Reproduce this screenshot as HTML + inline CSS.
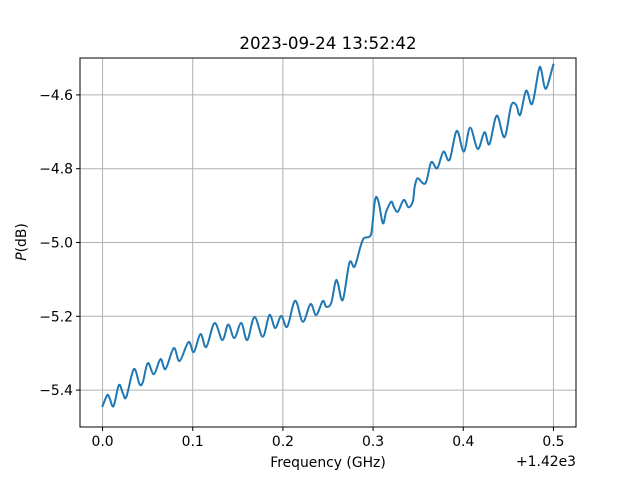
<!DOCTYPE html>
<html><head><meta charset="utf-8"><style>
body{margin:0;background:#fff}
svg text{font-family:"DejaVu Sans","Liberation Sans",sans-serif;fill:#000}
</style></head><body>
<svg id="chart" width="640" height="480" xmlns="http://www.w3.org/2000/svg">
<rect width="640" height="480" fill="#fff"/>
<g id="grid"></g><g id="ticks"></g>
<path id="line" fill="none" stroke="#1f77b4" stroke-width="2" stroke-linejoin="round" stroke-linecap="square"/>
<rect x="80" y="58" width="496" height="369" fill="none" stroke="#000" stroke-width="1"/>
<text x="328" y="49" font-size="16.7" text-anchor="middle">2023-09-24 13:52:42</text>
<text x="328" y="467" font-size="13.9" text-anchor="middle">Frequency (GHz)</text>
<text x="576" y="466" font-size="13.9" text-anchor="end">+1.42e3</text>
<text transform="translate(26,242) rotate(-90)" font-size="13.9" text-anchor="middle"><tspan font-style="italic">P</tspan>(dB)</text>
</svg>
<script>
const freq=[0,0.0052,0.0078,0.0122,0.0181,0.0225,0.0263,0.0347,0.0410,0.0447,0.0502,0.0569,0.0643,0.0698,0.0790,0.0854,0.0953,0.1012,0.1086,0.1150,0.1242,0.1327,0.1382,0.1408,0.1463,0.1538,0.1604,0.1685,0.1777,0.1851,0.1915,0.1981,0.2048,0.2136,0.2221,0.2306,0.2369,0.2442,0.2480,0.2535,0.2583,0.2609,0.2664,0.2738,0.2794,0.2860,0.2897,0.2960,0.2986,0.3023,0.3060,0.3108,0.3145,0.3201,0.3229,0.3274,0.3340,0.3392,0.3440,0.3459,0.3470,0.3496,0.3581,0.3644,0.3711,0.3780,0.3847,0.3928,0.4006,0.4076,0.4161,0.4235,0.4290,0.4371,0.4457,0.4531,0.4586,0.4631,0.4697,0.4764,0.4837,0.4864,0.4900,0.4930,0.4992,0.5];
const power=[-5.4434,-5.4136,-5.4217,-5.4434,-5.3864,-5.4081,-5.4190,-5.3431,-5.3837,-5.3783,-5.3268,-5.3566,-5.3159,-5.3431,-5.2861,-5.3214,-5.2698,-5.2969,-5.2481,-5.2834,-5.2183,-5.2644,-5.2264,-5.2264,-5.2590,-5.2183,-5.2644,-5.2020,-5.2555,-5.1966,-5.2319,-5.1993,-5.2283,-5.1578,-5.2148,-5.1668,-5.1966,-5.1586,-5.1741,-5.1641,-5.1063,-5.1098,-5.1559,-5.0548,-5.0656,-5.0114,-4.9886,-4.9843,-4.9661,-4.8829,-4.8894,-4.9479,-4.9165,-4.8894,-4.9029,-4.9165,-4.8847,-4.9045,-4.8894,-4.8522,-4.8395,-4.8259,-4.8395,-4.7825,-4.7988,-4.7538,-4.7763,-4.6976,-4.7538,-4.6887,-4.7464,-4.7011,-4.7337,-4.6561,-4.7147,-4.6290,-4.6271,-4.6542,-4.5883,-4.6244,-4.5322,-4.5322,-4.5775,-4.5775,-4.5233,-4.5186];
const xTicks=[0,0.1,0.2,0.3,0.4,0.5];
const xTickLabels=["0.0","0.1","0.2","0.3","0.4","0.5"];
const yTicks=[-5.4,-5.2,-5.0,-4.8,-4.6];
const yTickLabels=["\u22125.4","\u22125.2","\u22125.0","\u22124.8","\u22124.6"];
const L=80,R=576,T=58,B=427;
const xMin=-0.025,xMax=0.525,yMin=-5.5,yMax=-4.5;
const sx=v=>L+(v-xMin)/(xMax-xMin)*(R-L);
const sy=v=>B-(v-yMin)/(yMax-yMin)*(B-T);
const NS="http://www.w3.org/2000/svg";
const grid=document.getElementById('grid'),ticks=document.getElementById('ticks');
function mk(tag,attrs,parent){const e=document.createElementNS(NS,tag);for(const k in attrs)e.setAttribute(k,attrs[k]);parent.appendChild(e);return e;}
xTicks.forEach((t,i)=>{const x=sx(t);
 const g=mk('line',{x1:x,x2:x,y1:T,y2:B,stroke:'#b0b0b0','stroke-width':1},grid);
 
 
 const tk=mk('line',{x1:x,x2:x,y1:B,y2:B+4,stroke:'#000','stroke-width':1},ticks);
 
 
 const tx=mk('text',{x:x,y:B+19,'font-size':13.9,'text-anchor':'middle'},ticks);tx.textContent=xTickLabels[i];
 
 
});
yTicks.forEach((t,i)=>{const y=sy(t);
 const g=mk('line',{x1:L,x2:R,y1:y,y2:y,stroke:'#b0b0b0','stroke-width':1},grid);
 
 
 const tk=mk('line',{x1:L-4,x2:L,y1:y,y2:y,stroke:'#000','stroke-width':1},ticks);
 
 
 const tx=mk('text',{x:L-7,y:y+5,'font-size':13.9,'text-anchor':'end'},ticks);tx.textContent=yTickLabels[i];
 
 
});
const P=freq.map((f,i)=>[sx(f),sy(power[i])]);
let d='M'+P[0][0].toFixed(2)+','+P[0][1].toFixed(2);
for(let i=0;i<P.length-1;i++){
 const p0=P[Math.max(i-1,0)],p1=P[i],p2=P[i+1],p3=P[Math.min(i+2,P.length-1)];
 const c1=[p1[0]+(p2[0]-p0[0])/6,p1[1]+(p2[1]-p0[1])/6];
 const c2=[p2[0]-(p3[0]-p1[0])/6,p2[1]-(p3[1]-p1[1])/6];
 d+='C'+c1.map(v=>v.toFixed(2)).join(',')+' '+c2.map(v=>v.toFixed(2)).join(',')+' '+p2.map(v=>v.toFixed(2)).join(',');
}
document.getElementById('line').setAttribute('d',d);
</script>
</body></html>
